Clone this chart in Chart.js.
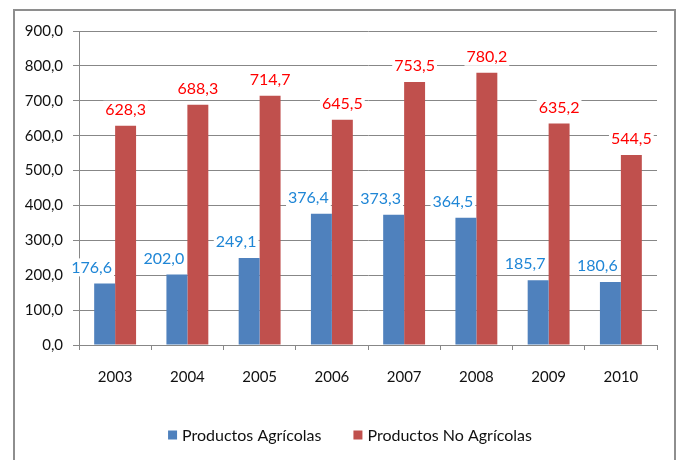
<!DOCTYPE html>
<html>
<head>
<meta charset="utf-8">
<script src="https://cdn.jsdelivr.net/npm/chart.js@4"></script>
<style>
  html, body { margin: 0; padding: 0; background: #fff; overflow: hidden; }
  #wrap { width: 678px; height: 460px; position: relative; }
</style>
</head>
<body>
<div id="wrap"><canvas id="chart"></canvas></div>
<script>
const years = ["2003", "2004", "2005", "2006", "2007", "2008", "2009", "2010"]
const agricolas = [176.6, 202.0, 249.1, 376.4, 373.3, 364.5, 185.7, 180.6]
const noAgricolas = [628.3, 688.3, 714.7, 645.5, 753.5, 780.2, 635.2, 544.5]
const seriesNames = ["Productos Agrícolas", "Productos No Agrícolas"]

const fmt = v => v.toFixed(1).replace('.', ',')
const FONT = "Lato, 'Open Sans', sans-serif"

// outer grey frame of the chart
const frame = {
    id: 'frame',
    beforeDraw(chart) {
        const ctx = chart.ctx
        ctx.save()
        ctx.fillStyle = '#fff'
        ctx.fillRect(0, 0, chart.width, chart.height)
        ctx.strokeStyle = '#8e8e8e'
        ctx.lineWidth = 2
        ctx.strokeRect(14, 10, 661, 470)
        ctx.restore()
    }
}

// value labels above bars (white box behind text)
const valueLabels = {
    id: 'valueLabels',
    afterDatasetsDraw(chart) {
        const ctx = chart.ctx
        ctx.save()
        ctx.font = "16px " + FONT
        ctx.textAlign = 'center'
        ctx.textBaseline = 'middle'
        chart.data.datasets.forEach((ds, i) => {
            const meta = chart.getDatasetMeta(i)
            meta.data.forEach((bar, j) => {
                const txt = fmt(ds.data[j])
                const x = bar.x + (i === 0 ? -13 : 0)
                const y = bar.y - 16
                const w = ctx.measureText(txt).width
                ctx.fillStyle = '#fff'
                ctx.fillRect(x - w / 2 - 2, y - 9, w + 4, 18)
                ctx.fillStyle = ds.labelColor
                ctx.fillText(txt, x, y)
            })
        })
        ctx.restore()
    }
}

// legend at the bottom, Excel-like spacing
const bottomLegend = {
    id: 'bottomLegend',
    afterDraw(chart) {
        const ctx = chart.ctx
        ctx.save()
        ctx.font = "16px " + FONT
        ctx.textBaseline = 'middle'
        const box = 9, gapText = 5, gapItem = 32
        const items = chart.data.datasets.map(ds => ({ text: ds.label, color: ds.backgroundColor, w: ctx.measureText(ds.label).width }))
        const total = items.reduce((n, it) => n + box + gapText + it.w, 0) + gapItem * (items.length - 1)
        let x = 350 - total / 2
        const y = 435
        items.forEach(it => {
            ctx.fillStyle = it.color
            ctx.fillRect(x, y - box / 2, box, box)
            x += box + gapText
            ctx.fillStyle = '#111'
            ctx.fillText(it.text, x, y + 1)
            x += it.w + gapItem
        })
        ctx.restore()
    }
}

new Chart(document.getElementById('chart'), {
    type: 'bar',
    data: {
        labels: years,
        datasets: [{
            label: seriesNames[0],
            data: agricolas,
            backgroundColor: '#4f81bd',
            labelColor: '#1f86d6'
        },
        {
            label: seriesNames[1],
            data: noAgricolas,
            backgroundColor: '#c0504d',
            labelColor: '#ff0000'
        }]
    },
    options: {
        responsive: true,
        maintainAspectRatio: false,
        animation: false,
        datasets: {
            bar: { categoryPercentage: 0.58, barPercentage: 1 }
        },
        layout: { padding: { top: 31, left: 0, right: 21, bottom: 38 } },
        scales: {
            y: {
                min: 0,
                max: 900,
                ticks: {
                    stepSize: 100,
                    padding: 10,
                    color: '#111',
                    font: { family: FONT, size: 15 },
                    callback: v => fmt(v)
                },
                grid: { color: '#878787', tickLength: 6 },
                border: { color: '#878787' },
                afterFit: s => { s.width = 79 }
            },
            x: {
                ticks: {
                    padding: 18,
                    color: '#111',
                    font: { family: FONT, size: 15 }
                },
                grid: { drawOnChartArea: false, color: '#878787', tickLength: 5 },
                border: { color: '#878787' },
                afterFit: s => { s.height = 77 }
            }
        },
        plugins: {
            legend: { display: false },
            tooltip: { enabled: false }
        }
    },
    plugins: [frame, valueLabels, bottomLegend]
})
</script>
</body>
</html>
